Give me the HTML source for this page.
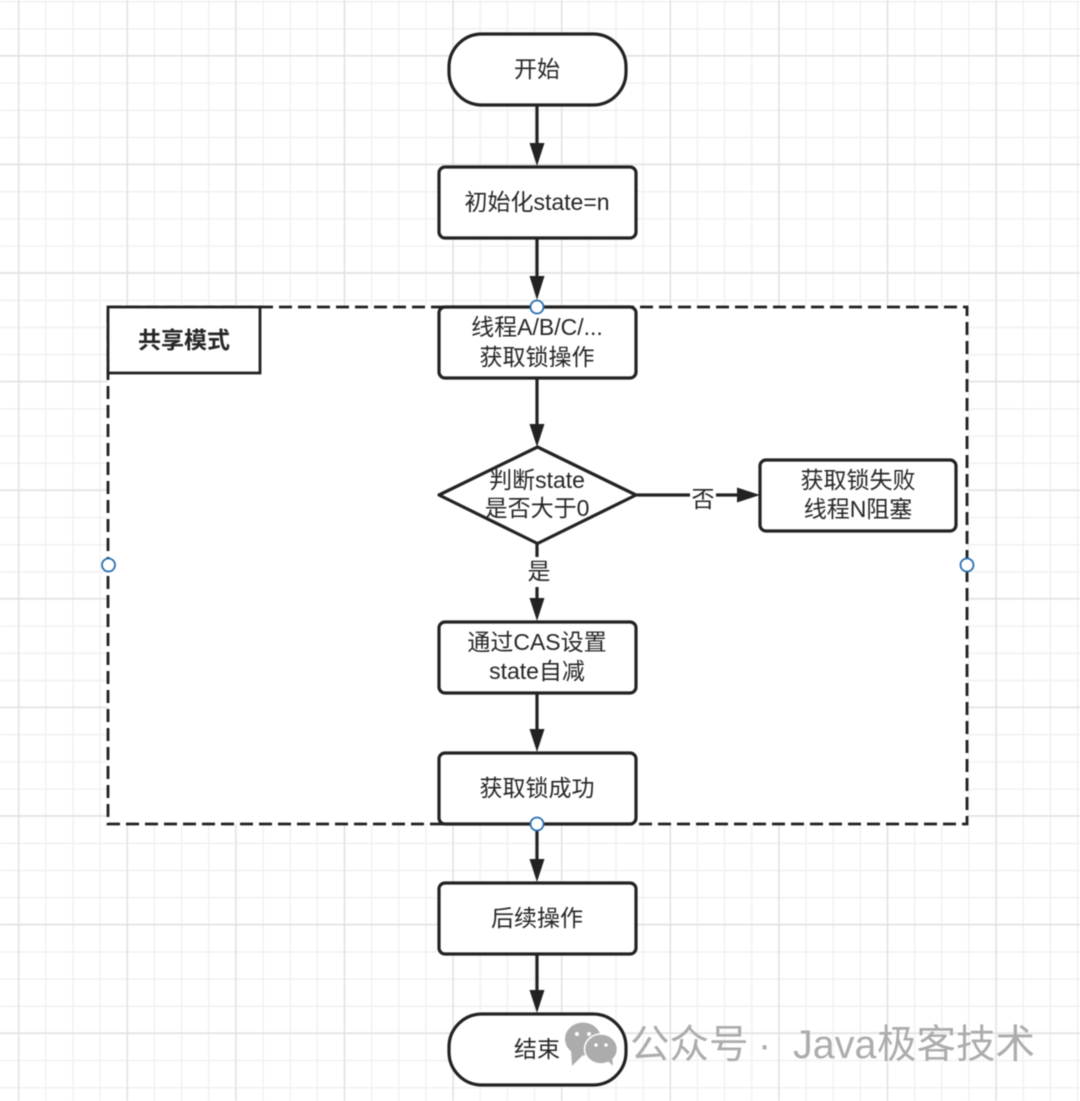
<!DOCTYPE html>
<html lang="zh"><head><meta charset="utf-8">
<style>
html,body{margin:0;padding:0;background:#fff;}
svg{display:block;filter:blur(.45px);}
text{font-family:"Liberation Sans","Noto Sans CJK SC",sans-serif;fill:#262626;font-size:23px;text-anchor:middle;}
.wm{text-anchor:start;font-size:39.5px;fill:#acacac;}
</style></head>
<body>
<svg width="1080" height="1101" viewBox="0 0 1080 1101" xmlns="http://www.w3.org/2000/svg">
<defs>
<pattern id="minor" x="18" y="1" width="27.15" height="27.15" patternUnits="userSpaceOnUse">
<path d="M0.5 0V27.15M0 0.5H27.15" stroke="#f0f0f0" stroke-width="1.6" fill="none"/>
</pattern>
<pattern id="major" x="18" y="55" width="108.6" height="108.6" patternUnits="userSpaceOnUse">
<path d="M0.5 0V108.6M0 0.5H108.6" stroke="#e0e0e0" stroke-width="1.7" fill="none"/>
</pattern>
</defs>
<rect width="1080" height="1101" fill="#fff"/>
<rect width="1080" height="1101" fill="url(#minor)"/>
<rect width="1080" height="1101" fill="url(#major)"/>

<!-- group -->
<rect x="108" y="307" width="859" height="517" fill="#fff" stroke="#1f1f1f" stroke-width="2.8" stroke-dasharray="13 6"/>
<rect x="108" y="307" width="152" height="66" fill="#fff" stroke="#222" stroke-width="2.8"/>
<text x="184" y="348" style="font-weight:700;">共享模式</text>

<g fill="none" stroke="#222" stroke-width="3.2">
<path d="M537 105V145M537 238V278M537 378V426M537 544V557M537 587V600M537 693V730M537 824V861M537 954V991M637 495H690M716 495H738"/>
</g>
<g fill="#222">
<path d="M529.500 143H544.500L537 166ZM529.500 276H544.500L537 300ZM529.500 424H544.500L537 447ZM529.500 598H544.500L537 621ZM529.500 729H544.500L537 752ZM529.500 859H544.500L537 882ZM529.500 990H544.500L537 1013ZM737 487.500V502.500L760 495Z"/>
</g>

<g fill="#fff" stroke="#222" stroke-width="3.2">
<rect x="449" y="34" width="177" height="71" rx="33" ry="33"/>
<rect x="439" y="167" width="197" height="71" rx="6"/>
<rect x="439" y="307" width="197" height="71" rx="6"/>
<path d="M537.5 447L636 495L537.5 543.500L439 495Z" stroke-linejoin="round"/>
<rect x="760" y="460" width="196" height="71" rx="6"/>
<rect x="439" y="622" width="197" height="71" rx="6"/>
<rect x="439" y="753" width="197" height="71" rx="6"/>
<rect x="439" y="883" width="197" height="71" rx="6"/>
<rect x="449" y="1014" width="177" height="71" rx="33" ry="33"/>
</g>

<text x="537" y="77">开始</text>
<text x="537" y="210">初始化state=n</text>
<text x="537" y="335">线程A/B/C/...</text>
<text x="537" y="365">获取锁操作</text>
<text x="537" y="488">判断state</text>
<text x="537" y="516">是否大于0</text>
<text x="703" y="507">否</text>
<text x="539" y="579">是</text>
<text x="858" y="488">获取锁失败</text>
<text x="858" y="517">线程N阻塞</text>
<text x="537" y="650">通过CAS设置</text>
<text x="537" y="679">state自减</text>
<text x="537" y="796">获取锁成功</text>
<text x="537" y="926">后续操作</text>
<text x="537" y="1057">结束</text>

<g fill="#fff" stroke="#2a6fb0" stroke-width="1.8">
<circle cx="537" cy="307" r="6.500"/>
<circle cx="537" cy="824" r="6.500"/>
<circle cx="108.500" cy="565" r="6.500"/>
<circle cx="967" cy="565" r="6.500"/>
</g>

<!-- watermark -->
<g fill="#acacac">
<ellipse cx="583" cy="1039" rx="18" ry="16.500"/>
<path d="M571 1050L572 1066L584 1054Z"/>
<ellipse cx="601" cy="1049" rx="16.500" ry="15" stroke="#fff" stroke-width="1.500"/>
<path d="M607 1060L613 1066L612 1055Z"/>
</g>
<g fill="#fff">
<circle cx="577" cy="1034" r="2"/><circle cx="589" cy="1034" r="2"/>
<circle cx="596" cy="1045" r="1.800"/><circle cx="606" cy="1045" r="1.800"/>
</g>
<text class="wm" x="630" y="1058">公众号</text>
<text class="wm" x="758" y="1058">·</text>
<text class="wm" x="793" y="1058">Java</text>
<text class="wm" x="877" y="1058">极客技术</text>
</svg>
</body></html>
